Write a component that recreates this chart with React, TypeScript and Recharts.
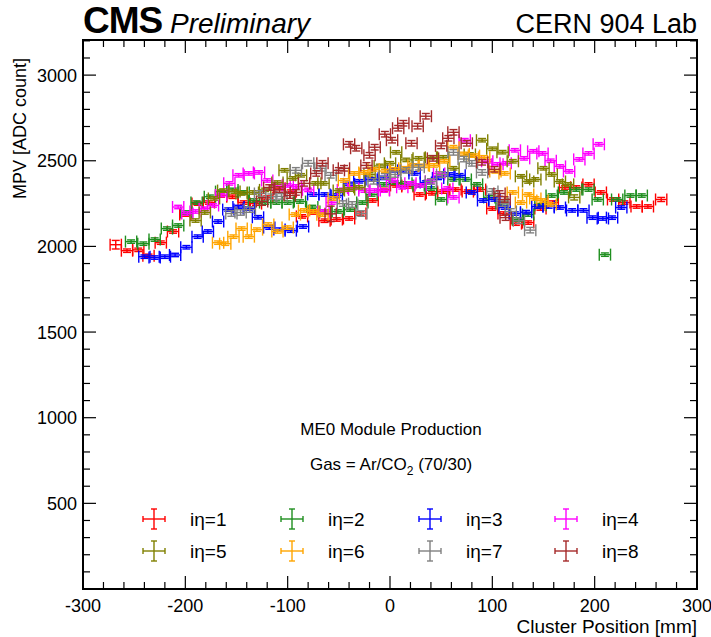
import React from "react";
import { ScatterChart, Scatter, XAxis, YAxis, ErrorBar, ReferenceArea, ReferenceLine } from "recharts";

const FONT = "'Liberation Sans', Arial, Helvetica, sans-serif";

// x range and y range of the frame
const X_RANGE = [-300, 300];
const Y_RANGE = [0, 3205];
const X_TICKS = [-300, -200, -100, 0, 100, 200, 300];
const Y_TICKS = [500, 1000, 1500, 2000, 2500, 3000];

// half width of each position bin (mm)
const X_ERR = 5.5;

// [position mm, MPV, optional y error]
const ETA1: number[][] = [
  [-268, 2010, 25], [-257, 1975], [-246, 1980], [-236, 1945], [-224, 2022], [-212, 2087], [-200, 2186],
  [-188, 2250], [-177, 2256], [-165, 2297], [-154, 2290], [-143, 2256], [-131, 2250], [-120, 2285],
  [-108, 2340], [-97, 2320], [-86, 2175], [-75, 2198], [-64, 2150], [-52, 2157], [-40, 2163],
  [-29, 2192], [-17, 2268], [-6, 2330], [6, 2356], [17, 2350], [29, 2303], [41, 2310], [52, 2320],
  [64, 2332], [76, 2320], [88, 2332], [100, 2221], [111, 2192], [123, 2133], [135, 2139], [147, 2221],
  [159, 2256], [171, 2344], [182, 2344], [194, 2362], [206, 2315], [218, 2274], [229, 2256],
  [241, 2233], [252, 2233], [265, 2274, 12],
];
const ETA2: number[][] = [
  [-253, 2028], [-241, 2016], [-230, 2040], [-218, 2104], [-207, 2122], [-199, 2198], [-189, 2256],
  [-176, 2290], [-165, 2320], [-154, 2330], [-143, 2315], [-133, 2268], [-122, 2256], [-111, 2256],
  [-100, 2256], [-88, 2262], [-76, 2230], [-63, 2204], [-51, 2204], [-39, 2215], [-27, 2256],
  [-18, 2303], [-6, 2362], [5, 2372], [16, 2368], [28, 2356], [40, 2338], [50, 2274], [62, 2391],
  [74, 2391], [85, 2362], [97, 2286], [109, 2250], [125, 2157], [135, 2186], [147, 2240], [158, 2297],
  [170, 2315], [182, 2332], [194, 2332], [203, 2274], [210, 1952], [222, 2274], [235, 2297], [246, 2297],
];
const ETA3: number[][] = [
  [-240, 1940], [-230, 1935], [-220, 1940], [-210, 1950], [-199, 1995], [-188, 2057], [-178, 2087],
  [-168, 2145], [-158, 2215], [-148, 2230], [-138, 2221], [-129, 2170], [-118, 2110], [-108, 2098],
  [-97, 2092], [-85, 2116], [-75, 2303], [-64, 2303], [-52, 2297], [-40, 2365], [-30, 2380],
  [-18, 2391], [-6, 2400], [3, 2444], [13, 2444], [24, 2426], [35, 2373], [47, 2400], [58, 2420],
  [68, 2415], [80, 2315], [91, 2268], [102, 2274], [112, 2227], [122, 2192], [133, 2200], [144, 2233],
  [155, 2233], [166, 2227], [178, 2210], [189, 2210], [198, 2168], [208, 2163], [217, 2168], [226, 2227],
];
const ETA4: number[][] = [
  [-207, 2230], [-198, 2192], [-190, 2204], [-181, 2220], [-173, 2239], [-165, 2300], [-157, 2368],
  [-148, 2415], [-138, 2426], [-128, 2432], [-120, 2385], [-110, 2362], [-100, 2356], [-92, 2350],
  [-80, 2330], [-65, 2204], [-57, 2256], [-46, 2330], [-36, 2340], [-25, 2326], [-15, 2326],
  [-6, 2326], [2, 2385], [12, 2345], [20, 2368], [30, 2356], [40, 2380], [48, 2426], [56, 2338],
  [62, 2286], [73, 2620], [95, 2497], [105, 2479], [113, 2485], [122, 2561], [131, 2514], [140, 2555],
  [149, 2543], [157, 2500], [166, 2467], [175, 2438], [185, 2508], [194, 2543], [204, 2596],
];
const ETA5: number[][] = [
  [-190, 2151], [-181, 2198], [-172, 2280], [-163, 2326], [-152, 2320], [-145, 2309], [-134, 2315],
  [-122, 2330], [-110, 2373], [-103, 2444], [-95, 2397], [-87, 2415], [-73, 2368], [-65, 2368],
  [-50, 2326], [-40, 2332], [-30, 2345], [-20, 2420], [-10, 2470], [0, 2485], [6, 2549], [16, 2505],
  [28, 2514], [40, 2520], [52, 2520], [62, 2456], [78, 2537], [90, 2620], [100, 2570], [110, 2550],
  [120, 2497], [128, 2409], [135, 2379], [142, 2391], [150, 2456], [158, 2420], [166, 2379],
  [174, 2362], [180, 2286, 15],
];
const ETA6: number[][] = [
  [-168, 2022], [-161, 2016], [-153, 2057], [-145, 2104], [-138, 2057], [-130, 2098], [-119, 2128],
  [-110, 2087], [-100, 2110], [-93, 2186], [-84, 2210], [-75, 2204], [-66, 2185], [-55, 2280],
  [-45, 2385], [-35, 2426], [-25, 2432], [-16, 2450], [-5, 2440], [5, 2450], [14, 2456], [23, 2473],
  [33, 2470], [43, 2473], [53, 2497], [62, 2579], [72, 2540], [82, 2530], [92, 2520], [103, 2438],
  [112, 2426], [120, 2315], [128, 2256], [135, 2303], [142, 2280], [149, 2268], [157, 2245],
];
const ETA7: number[][] = [
  [-155, 2192, 16], [-146, 2198, 16], [-137, 2215, 16], [-127, 2309, 16], [-116, 2290, 16],
  [-106, 2292, 16], [-92, 2444, 16], [-80, 2485, 16], [-68, 2456, 16], [-58, 2415, 16],
  [-46, 2250, 16], [-37, 2245, 16], [-28, 2192, 16], [-16, 2380, 16], [-5, 2409, 16], [5, 2420, 16],
  [16, 2444, 16], [28, 2462, 16], [40, 2379, 16], [51, 2420, 16], [62, 2549, 16], [72, 2510, 16],
  [80, 2485, 16], [90, 2432, 16], [100, 2321, 16], [110, 2250, 16], [118, 2204, 16], [126, 2150, 16],
  [137, 2095, 16],
];
const ETA8: number[][] = [
  [-125, 2262, 22], [-118, 2344, 16], [-108, 2332, 16], [-98, 2297, 16], [-92, 2315, 16],
  [-84, 2368, 16], [-72, 2426, 16], [-66, 2485, 16], [-58, 2190, 45], [-50, 2444, 16], [-45, 2456, 16],
  [-40, 2596, 16], [-33, 2573, 16], [-23, 2473, 16], [-20, 2532, 16], [-15, 2579, 16], [-5, 2655, 16],
  [2, 2620, 16], [8, 2690, 16], [13, 2719, 16], [21, 2602, 16], [27, 2702, 16], [35, 2760, 16],
  [42, 2514, 16], [50, 2587, 16], [57, 2631, 16], [62, 2666, 16], [75, 2602, 16], [90, 2491, 16],
  [102, 2450, 16], [107, 2309, 16], [112, 2274, 16], [113, 2168, 16],
];

const NAMES = ["iη=1", "iη=2", "iη=3", "iη=4", "iη=5", "iη=6", "iη=7", "iη=8"];
const COLORS = ["#ff0000", "#1f8f1f", "#0000ff", "#ff00ff", "#808000", "#ffa500", "#808080", "#a52a2a"];
const SERIES_DATA = [ETA1, ETA2, ETA3, ETA4, ETA5, ETA6, ETA7, ETA8];

const series = SERIES_DATA.map((rows, i) => ({
  name: NAMES[i],
  color: COLORS[i],
  data: rows.map((r) => ({ x: r[0], y: r[1], xe: X_ERR, ye: r[2] ?? 10 })),
}));

// frame ticks (ROOT style, inside on all four sides)
const PX_PER_Y = 549 / (Y_RANGE[1] - Y_RANGE[0]);
const PX_PER_X = 614 / (X_RANGE[1] - X_RANGE[0]);
const xMinor: number[] = [];
for (let v = X_RANGE[0]; v <= X_RANGE[1]; v += 20) xMinor.push(v);
const yMinor: number[] = [];
for (let v = 100; v <= 3200; v += 100) yMinor.push(v);

const XTick = (props: any) => (
  <text x={props.x} y={props.y} dy={23} textAnchor="middle" fontSize={18} fontFamily={FONT} fill="#000">
    {props.payload.value}
  </text>
);
const YTick = (props: any) => (
  <text x={props.x} y={props.y} dy={6.5} textAnchor="end" fontSize={18} fontFamily={FONT} fill="#000">
    {props.payload.value}
  </text>
);

const LEG_X = [154, 292, 430, 566];
const LEG_Y = [519, 551];

function LegendMark({ cx, cy, color }: { cx: number; cy: number; color: string }) {
  return (
    <g stroke={color} strokeWidth={1.4}>
      <line x1={cx - 11} x2={cx + 11} y1={cy} y2={cy} />
      <line x1={cx} x2={cx} y1={cy - 10} y2={cy + 10} />
      <line x1={cx - 11} x2={cx - 11} y1={cy - 3} y2={cy + 3} />
      <line x1={cx + 11} x2={cx + 11} y1={cy - 3} y2={cy + 3} />
      <line x1={cx - 3} x2={cx + 3} y1={cy - 10} y2={cy - 10} />
      <line x1={cx - 3} x2={cx + 3} y1={cy + 10} y2={cy + 10} />
    </g>
  );
}

export default function App() {
  const yMaj = 13 / PX_PER_Y;
  const yMin = 7 / PX_PER_Y;
  const xMaj = 13 / PX_PER_X;
  const xMin = 7 / PX_PER_X;
  return (
    <div style={{ position: "absolute", left: 0, top: 0, width: 711, height: 637, background: "#fff" }}>
      <ScatterChart width={711} height={637} margin={{ top: 40, right: 14, bottom: 18, left: 23 }}>
        <XAxis
          type="number"
          dataKey="x"
          domain={X_RANGE}
          ticks={X_TICKS}
          allowDataOverflow
          axisLine={false}
          tickLine={false}
          tickSize={0}
          tickMargin={0}
          height={30}
          tick={<XTick />}
        />
        <YAxis
          type="number"
          dataKey="y"
          domain={Y_RANGE}
          ticks={Y_TICKS}
          allowDataOverflow
          axisLine={false}
          tickLine={false}
          tickSize={0}
          tickMargin={6}
          width={60}
          tick={<YTick />}
        />
        <ReferenceArea
          x1={X_RANGE[0]}
          x2={X_RANGE[1]}
          y1={Y_RANGE[0]}
          y2={Y_RANGE[1]}
          fill="none"
          stroke="#000"
          strokeWidth={2}
          ifOverflow="visible"
        />
        {xMinor.map((v) => {
          const len = v % 100 === 0 ? yMaj : yMin;
          return (
            <React.Fragment key={"xt" + v}>
              <ReferenceLine segment={[{ x: v, y: Y_RANGE[0] }, { x: v, y: Y_RANGE[0] + len }]} stroke="#000" strokeWidth={1.2} ifOverflow="visible" />
              <ReferenceLine segment={[{ x: v, y: Y_RANGE[1] }, { x: v, y: Y_RANGE[1] - len }]} stroke="#000" strokeWidth={1.2} ifOverflow="visible" />
            </React.Fragment>
          );
        })}
        {yMinor.map((v) => {
          const len = v % 500 === 0 ? xMaj : xMin;
          return (
            <React.Fragment key={"yt" + v}>
              <ReferenceLine segment={[{ x: X_RANGE[0], y: v }, { x: X_RANGE[0] + len, y: v }]} stroke="#000" strokeWidth={1.2} ifOverflow="visible" />
              <ReferenceLine segment={[{ x: X_RANGE[1], y: v }, { x: X_RANGE[1] - len, y: v }]} stroke="#000" strokeWidth={1.2} ifOverflow="visible" />
            </React.Fragment>
          );
        })}
        {series.map((s) => (
          <Scatter key={s.name} name={s.name} data={s.data} shape={() => <g />} isAnimationActive={false}>
            <ErrorBar dataKey="xe" direction="x" width={6} stroke={s.color} strokeWidth={1.4} isAnimationActive={false} />
            <ErrorBar dataKey="ye" direction="y" width={4} stroke={s.color} strokeWidth={1.4} isAnimationActive={false} />
          </Scatter>
        ))}
      </ScatterChart>
      <svg width={711} height={637} style={{ position: "absolute", left: 0, top: 0, pointerEvents: "none" }} fontFamily={FONT}>
        <text x={83} y={33} fontSize={37} fontWeight="bold" letterSpacing={-1}>CMS</text>
        <text x={170} y={33} fontSize={28} fontStyle="italic">Preliminary</text>
        <text x={697} y={33} fontSize={27} textAnchor="end">CERN 904 Lab</text>
        <text transform="translate(26,58) rotate(-90)" fontSize={18} textAnchor="end">MPV [ADC count]</text>
        <text x={697} y={633} fontSize={19} textAnchor="end">Cluster Position [mm]</text>
        <text x={391} y={435} fontSize={17} textAnchor="middle">ME0 Module Production</text>
        <text x={391} y={470} fontSize={17} textAnchor="middle">
          <tspan>Gas = Ar/CO</tspan>
          <tspan dy={5} fontSize={12}>2</tspan>
          <tspan dy={-5}> (70/30)</tspan>
        </text>
        {series.map((s, i) => {
          const cx = LEG_X[i % 4];
          const cy = LEG_Y[Math.floor(i / 4)];
          return (
            <g key={s.name}>
              <LegendMark cx={cx} cy={cy} color={s.color} />
              <text x={cx + 36} y={cy + 7} fontSize={19}>{s.name}</text>
            </g>
          );
        })}
      </svg>
    </div>
  );
}
